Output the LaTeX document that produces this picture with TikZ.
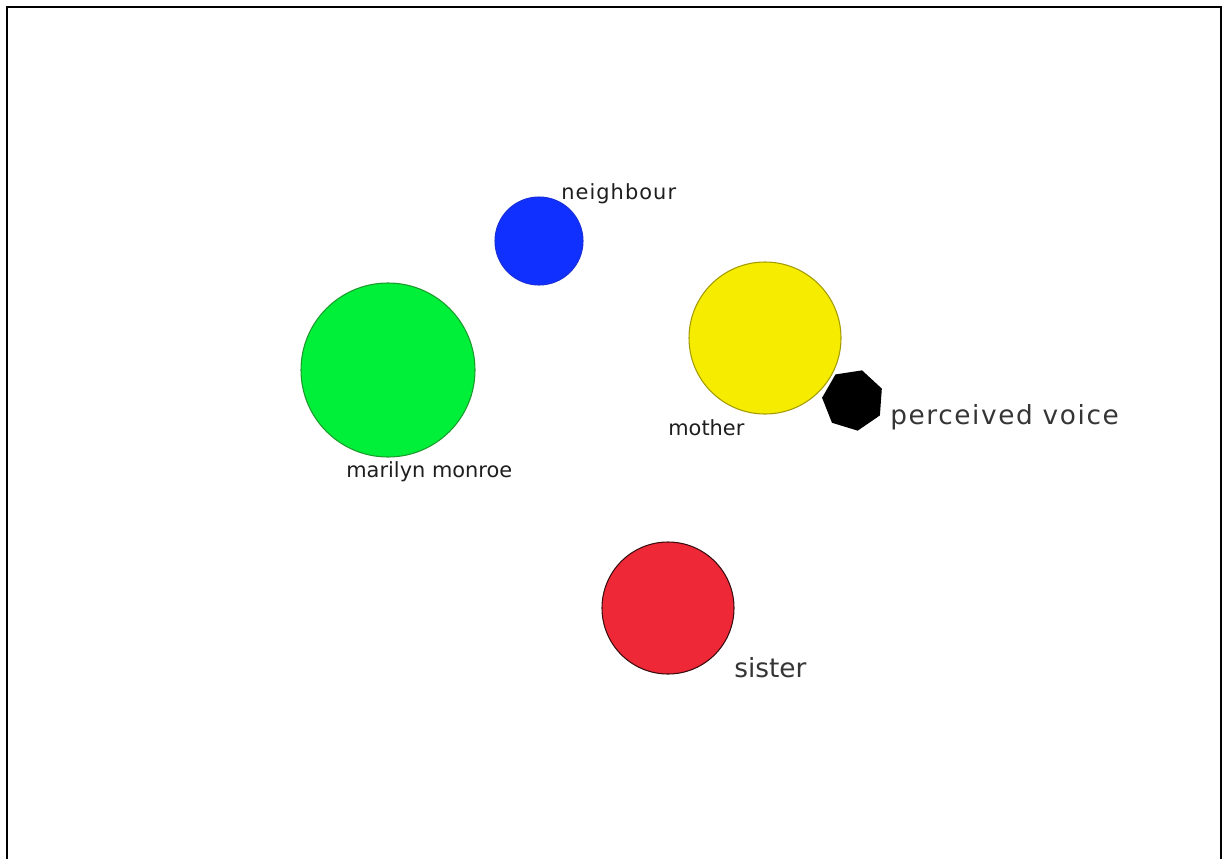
\documentclass[tikz,border=0pt]{standalone}
\usepackage{fontspec}
\setmainfont{DejaVu Sans}
\usetikzlibrary{shapes.geometric}
\definecolor{cgreen}{HTML}{00F03A}
\definecolor{cgreenline}{HTML}{1C9A2C}
\definecolor{cblue}{HTML}{1030FF}
\definecolor{cblueline}{HTML}{1A2FD8}
\definecolor{cyellow}{HTML}{F6EC00}
\definecolor{cyellowline}{HTML}{A39B00}
\definecolor{cred}{HTML}{EE2836}
\definecolor{credline}{HTML}{3A0C0E}
\definecolor{labelcolor}{HTML}{1E1E1E}
\definecolor{framecolor}{HTML}{000000}

\begin{document}
\begin{tikzpicture}[
    x=0.02cm, y=-0.02cm,
    person/.style={circle, inner sep=0pt, line width=0.6pt},
    lab/.style={font=\fontsize{11.9}{13}\selectfont, text=labelcolor, inner sep=0pt, anchor=base west},
    big/.style={font=\fontsize{15}{17}\selectfont, text=labelcolor!90!white, inner sep=0pt, anchor=base west},
]
\useasboundingbox (0,0) rectangle (1227,859);

% the frame, open at the bottom
\draw[framecolor, line width=1.2pt] (7,859) -- (7,7) -- (1221,7) -- (1221,859);

% ---------------- the people
\node[person, fill=cgreen, draw=cgreenline, minimum size=174*0.02cm] (monroe) at (388,370) {};
\node[person, fill=cblue, draw=cblueline, minimum size=88*0.02cm] (neighbour) at (539,241) {};
\node[person, fill=cyellow, draw=cyellowline, minimum size=152*0.02cm] (mother) at (765,338) {};
\node[person, fill=cred, draw=credline, minimum size=132*0.02cm] (sister) at (668,608) {};

% the voice
\node[regular polygon, regular polygon sides=7, rotate=-17, fill=black,
      inner sep=0pt, minimum size=62*0.02cm] (voice) at (853,400) {};

% ---------------- names
\node[lab] (neighbourlab) at (561,199) {\addfontfeature{LetterSpace=5}neighbour};
\node[lab] (monroelab) at (346,477) {marilyn monroe};
\node[lab] (motherlab) at (668,435) {mother};
\node[big] (voicelab) at (890,424) {\addfontfeature{LetterSpace=6}perceived voice};
\node[big] (sisterlab) at (734,677) {sister};
\end{tikzpicture}
\end{document}
